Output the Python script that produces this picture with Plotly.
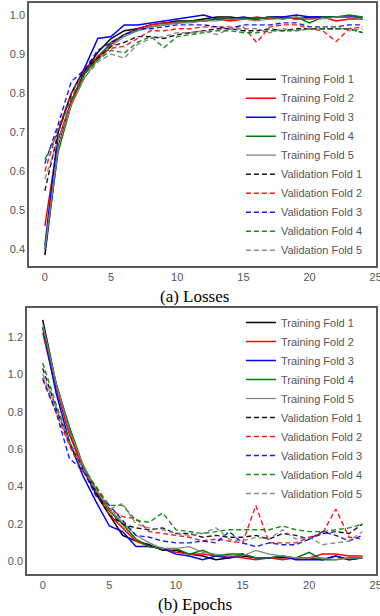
import plotly.graph_objects as go

epochs = list(range(25))
fold_names = ["Fold 1", "Fold 2", "Fold 3", "Fold 4", "Fold 5"]
colors = ["#000000", "#ff0000", "#0000ff", "#008000", "#808080"]

# Panel (a) - accuracy-like curves
acc_train = [
    [0.385, 0.66, 0.78, 0.855, 0.905, 0.94, 0.96, 0.965, 0.975, 0.98, 0.985, 0.985, 0.99, 0.995, 0.995, 0.99, 0.99, 0.995, 0.995, 0.99, 0.995, 0.995, 0.995, 0.995, 0.99],
    [0.46, 0.68, 0.78, 0.85, 0.895, 0.925, 0.95, 0.965, 0.975, 0.98, 0.98, 0.985, 0.985, 0.99, 0.985, 0.99, 0.995, 0.99, 0.995, 0.99, 0.99, 0.995, 0.985, 0.99, 0.99],
    [0.41, 0.70, 0.80, 0.865, 0.94, 0.945, 0.975, 0.975, 0.98, 0.985, 0.99, 0.995, 1.0, 0.99, 0.99, 0.995, 0.99, 0.995, 0.995, 1.0, 0.995, 0.995, 0.995, 0.995, 0.995],
    [0.40, 0.65, 0.77, 0.85, 0.89, 0.93, 0.95, 0.96, 0.97, 0.975, 0.98, 0.985, 0.985, 0.99, 0.99, 0.99, 0.99, 0.995, 0.99, 0.995, 0.98, 0.995, 0.995, 1.0, 0.995],
    [0.40, 0.66, 0.77, 0.84, 0.885, 0.92, 0.945, 0.96, 0.97, 0.975, 0.98, 0.98, 0.985, 0.985, 0.99, 0.99, 0.985, 0.99, 0.99, 0.995, 0.99, 0.99, 0.995, 0.995, 0.99],
]
acc_val = [
    [0.55, 0.70, 0.80, 0.86, 0.89, 0.92, 0.93, 0.945, 0.945, 0.94, 0.95, 0.955, 0.96, 0.965, 0.965, 0.96, 0.96, 0.965, 0.96, 0.965, 0.965, 0.965, 0.965, 0.965, 0.955],
    [0.60, 0.71, 0.80, 0.86, 0.895, 0.915, 0.92, 0.94, 0.96, 0.96, 0.965, 0.965, 0.97, 0.97, 0.97, 0.97, 0.93, 0.97, 0.975, 0.975, 0.965, 0.96, 0.932, 0.965, 0.97],
    [0.62, 0.72, 0.83, 0.86, 0.91, 0.93, 0.95, 0.965, 0.965, 0.97, 0.975, 0.975, 0.975, 0.97, 0.965, 0.975, 0.975, 0.975, 0.98, 0.98, 0.97, 0.97, 0.97, 0.975, 0.975],
    [0.63, 0.70, 0.79, 0.85, 0.885, 0.91, 0.903, 0.93, 0.945, 0.917, 0.945, 0.95, 0.955, 0.96, 0.96, 0.955, 0.955, 0.96, 0.96, 0.96, 0.965, 0.965, 0.965, 0.965, 0.955],
    [0.58, 0.68, 0.77, 0.84, 0.88, 0.90, 0.89, 0.925, 0.94, 0.945, 0.955, 0.955, 0.96, 0.95, 0.965, 0.965, 0.965, 0.955, 0.965, 0.96, 0.965, 0.97, 0.97, 0.96, 0.965],
]

# Panel (b) - loss curves
loss_train = [
    [1.29, 0.95, 0.70, 0.50, 0.36, 0.25, 0.14, 0.11, 0.09, 0.06, 0.06, 0.04, 0.03, 0.01, 0.02, 0.03, 0.02, 0.02, 0.02, 0.02, 0.02, 0.01, 0.03, 0.01, 0.02],
    [1.22, 0.92, 0.68, 0.50, 0.37, 0.25, 0.18, 0.11, 0.08, 0.07, 0.05, 0.04, 0.04, 0.03, 0.03, 0.02, 0.01, 0.02, 0.01, 0.02, 0.02, 0.04, 0.04, 0.03, 0.03],
    [1.25, 0.90, 0.64, 0.46, 0.32, 0.19, 0.16, 0.08, 0.08, 0.07, 0.04, 0.03, 0.01, 0.03, 0.02, 0.04, 0.02, 0.02, 0.03, 0.01, 0.01, 0.01, 0.03, 0.01, 0.02],
    [1.25, 0.95, 0.72, 0.52, 0.38, 0.27, 0.20, 0.12, 0.08, 0.07, 0.07, 0.04, 0.06, 0.03, 0.04, 0.04, 0.02, 0.02, 0.03, 0.02, 0.05, 0.01, 0.01, 0.02, 0.02],
    [1.27, 0.95, 0.70, 0.52, 0.39, 0.28, 0.21, 0.14, 0.10, 0.07, 0.07, 0.08, 0.05, 0.04, 0.03, 0.03, 0.06, 0.04, 0.03, 0.02, 0.02, 0.02, 0.01, 0.02, 0.02],
]
loss_val = [
    [1.03, 0.82, 0.63, 0.50, 0.37, 0.25, 0.20, 0.18, 0.17, 0.18, 0.15, 0.15, 0.13, 0.14, 0.13, 0.13, 0.14, 0.12, 0.15, 0.14, 0.12, 0.15, 0.16, 0.15, 0.20],
    [0.97, 0.80, 0.62, 0.48, 0.40, 0.28, 0.24, 0.23, 0.16, 0.15, 0.14, 0.13, 0.11, 0.12, 0.11, 0.10, 0.30, 0.10, 0.10, 0.10, 0.13, 0.15, 0.28, 0.13, 0.12],
    [0.98, 0.80, 0.55, 0.49, 0.35, 0.30, 0.22, 0.14, 0.13, 0.11, 0.10, 0.10, 0.11, 0.10, 0.16, 0.10, 0.08, 0.10, 0.09, 0.09, 0.12, 0.16, 0.14, 0.11, 0.14],
    [1.06, 0.84, 0.64, 0.50, 0.40, 0.30, 0.30, 0.22, 0.21, 0.26, 0.17, 0.16, 0.15, 0.16, 0.17, 0.17, 0.17, 0.17, 0.19, 0.17, 0.16, 0.16, 0.17, 0.18, 0.20],
    [1.00, 0.82, 0.64, 0.50, 0.38, 0.28, 0.31, 0.20, 0.18, 0.17, 0.15, 0.14, 0.15, 0.18, 0.12, 0.11, 0.13, 0.12, 0.17, 0.12, 0.13, 0.09, 0.10, 0.11, 0.16],
]

x_ticks = [0, 5, 10, 15, 20, 25]
a_ticks = [0.4, 0.5, 0.6, 0.7, 0.8, 0.9, 1.0]
b_ticks = [0.0, 0.2, 0.4, 0.6, 0.8, 1.0, 1.2]
captions = ["(a) Losses", "(b) Epochs"]

fig = go.Figure()

def add_panel(train, val, xa, ya, legend):
    for i in range(5):
        fig.add_trace(go.Scatter(
            x=epochs, y=train[i], mode="lines", xaxis=xa, yaxis=ya, legend=legend,
            name="Training " + fold_names[i],
            line=dict(color=colors[i], width=1.5 if i < 4 else 1.2)))
    for i in range(5):
        fig.add_trace(go.Scatter(
            x=epochs, y=val[i], mode="lines", xaxis=xa, yaxis=ya, legend=legend,
            name="Validation " + fold_names[i],
            line=dict(color=colors[i], width=1.4, dash="5px,3px"), opacity=0.9))

add_panel(acc_train, acc_val, "x", "y", "legend")
add_panel(loss_train, loss_val, "x2", "y2", "legend2")

tickfont = dict(family="Liberation Sans, Arial, sans-serif", size=11, color="#555555")
axis_common = dict(showgrid=False, zeroline=False, showline=True, mirror=True,
                   linecolor="#5a5a5a", linewidth=1.5, ticks="", tickfont=tickfont,
                   automargin=False, ticklabeloverflow="allow")
legfont = dict(family="Liberation Sans, Arial, sans-serif", size=11, color="#555555")

fig.update_layout(
    width=380, height=616,
    margin=dict(l=0, r=0, t=0, b=0, autoexpand=False),
    paper_bgcolor="white", plot_bgcolor="white",
    xaxis=dict(domain=[0.0763, 0.9895], range=[-1.2, 25.02], tickvals=x_ticks,
               anchor="y", **axis_common),
    yaxis=dict(domain=[0.5687, 0.9951], range=[0.358, 1.031], tickvals=a_ticks,
               tickformat=".1f", anchor="x", **axis_common),
    xaxis2=dict(domain=[0.0711, 0.9895], range=[-1.18, 25.02], tickvals=x_ticks,
                anchor="y2", **axis_common),
    yaxis2=dict(domain=[0.0682, 0.5], range=[-0.066, 1.353], tickvals=b_ticks,
                tickformat=".1f", anchor="x2", **axis_common),
    legend=dict(x=0.634, y=0.895, xanchor="left", yanchor="top",
                bgcolor="rgba(0,0,0,0)", font=legfont),
    legend2=dict(x=0.634, y=0.5, xanchor="left", yanchor="top",
                 bgcolor="rgba(0,0,0,0)", font=legfont),
    annotations=[
        dict(text=captions[0], x=0.513, y=1 - 296 / 616, xref="paper", yref="paper",
             yanchor="middle", showarrow=False,
             font=dict(family="Liberation Serif, Times New Roman, serif", size=17, color="#000000")),
        dict(text=captions[1], x=0.513, y=1 - 604 / 616, xref="paper", yref="paper",
             yanchor="middle", showarrow=False,
             font=dict(family="Liberation Serif, Times New Roman, serif", size=17, color="#000000")),
    ],
)

fig.write_html("out.html", config={"displayModeBar": False},
               post_script="document.body.style.margin='0';")
